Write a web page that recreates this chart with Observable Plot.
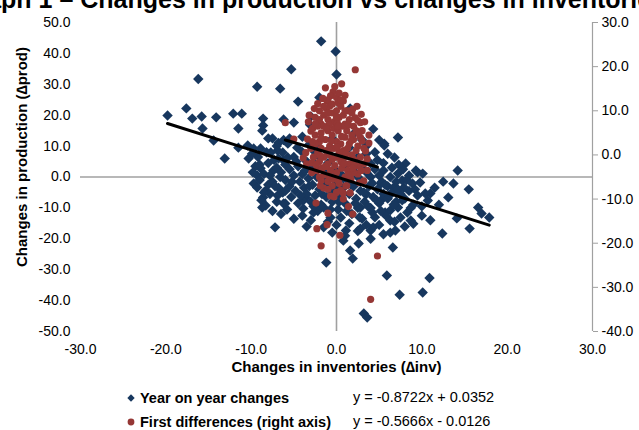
<!DOCTYPE html>
<html><head><meta charset="utf-8">
<script src="https://cdn.jsdelivr.net/npm/d3@7"></script>
<script src="https://cdn.jsdelivr.net/npm/@observablehq/plot@0.6"></script>
<style>
body{margin:0;background:#fff;}
#wrap{position:relative;width:639px;height:430px;overflow:hidden;font-family:"Liberation Sans",Arial,sans-serif;color:#000;background:#fff;}
#title{position:absolute;top:-14px;left:-42px;text-align:left;font-weight:bold;font-size:25px;line-height:26px;white-space:nowrap;}
#chart{position:absolute;left:0;top:0;}
.leg{position:absolute;font-size:14.5px;line-height:16px;white-space:nowrap;}
.eq{position:absolute;font-size:14.5px;line-height:16px;white-space:nowrap;}
</style></head><body>
<div id="wrap">
  <div id="title"></div>
  <div id="chart"></div>
  <div id="legend"></div>
</div>
<script>
const titleText = "Graph 1 – Changes in production vs changes in inventories";
const xTitle = "Changes in inventories (\u2206inv)";
const yTitle = "Changes in production (\u2206prod)";
const seriesNames = ["Year on year changes", "First differences (right axis)"];
const seriesColors = ["#17375E", "#953735"];
const slopes = [-0.8722, -0.5666];
const intercepts = [0.0352, -0.0126];
const equations = ["y = -0.8722x + 0.0352", "y = -0.5666x - 0.0126"];
const xTicks = [-30, -20, -10, 0, 10, 20, 30];
const leftTicks = [-50, -40, -30, -20, -10, 0, 10, 20, 30, 40, 50];
const rightTicks = [-40, -30, -20, -10, 0, 10, 20, 30];

// Year on year changes (x = Δinv, y = Δprod, left axis)
const yoyPoints = [
[-1.8,43.9],[-0.1,40.6],[0,33.2],[-5.3,34.9],[-16.2,31.7],[-9.3,29.2],[-6.6,28.6],[-4.5,24.4],[-2.0,25.7],[1.6,22.2],
[-19.8,19.9],[-17.6,22.2],[-16.9,18.9],[-15.8,19.6],[-14.1,19.3],[-12.1,20.5],[-11.1,20.5],[-15.7,15.7],[-11.5,15.7],[-8.6,18.9],
[-8.6,16.7],[-8.7,15.0],[-6.2,18.6],[-5.0,17.6],[-3.0,19.6],[-3.1,16.9],[-7.5,12.5],[-14.4,11.8],[-13.1,6.0],[-10.3,6.0],
[-11.5,9.5],[-10.4,10.2],[-9.7,9.2],[-8.9,9.2],[-7.7,7.9],[-6.9,8.6],[-6.2,5.3],[-5.7,6.3],[-5.7,10.8],[-6.3,7.9],
[4.3,15.5],[5.6,10.8],[7.2,12.8],[6.8,6.3],[8.1,4.4],[9.3,2.1],[7.2,1.1],[9.8,-1.8],[14.2,2.1],[13.7,-2.1],
[15.5,-4.0],[11.0,-5.3],[10.7,-7.6],[13.1,-6.6],[14.1,-13.4],[12.4,-18.3],[15.6,-16.7],[16.6,-9.9],[17.0,-11.8],[17.9,-13.1],
[7.5,-13.1],[8.7,-14.1],[9.0,-15.1],[6.6,-22.8],[6.3,-18.0],[7.9,-3.4],[8.3,-11.5],[10.1,1.1],[10.4,-5.3],[6.7,-3.4],
[7.7,-1.1],[8.9,-2.1],[9.5,1.5],[5.6,10.2],
[-8.9,2.8],[-9.3,0.5],[-9.7,-2.1],[-9.3,-3.4],[-8.3,-4.4],[-8.6,-6.6],[-8.3,-9.2],[-8.7,-9.9],[-7.2,-16.3],[-6.9,-6.0],
[-6.2,-8.6],[-7.4,2.1],[-6.6,0],[-6.0,-8.6],[-3.9,-7.6],[-3.9,-10.2],[-2.7,-11.5],[-1.5,-16.3],[-0.7,-13.1],[-1.2,-27.7],
[0.8,-20.6],[1.6,-23.8],[1.9,-26.4],[2.6,-21.5],[2.8,-16.7],[4.0,-17.3],[5.9,-31.9],[3.2,-44.2],[3.6,-45.5],[7.4,-38.1],
[10.1,-37.4],[10.9,-32.7],[6.3,-14.1],[7.2,-9.9],[5.7,-11.5],[-3.6,-6.6],[-1.5,-9.9],[0.5,-13.1],[1.1,-17.3],[2.8,-9.9],
[4.2,-11.5],[5.2,-7.6],[6.3,-10.8],[6.9,-17.3],[4.3,-16.3],[5.5,2.1],[5.2,-2.1],[4.0,4.4],[3.0,3.1],
[-4.0,13.0],[-2.5,8.0],[3.5,10.0],[2.0,14.0],[4.5,8.0],[5.0,12.0],[-4.6,9.5],
[-9.5,3.5],[-9.0,-1.0],[-8.5,1.0],[-8.0,4.5],[-8.0,-2.5],[-7.8,-5.5],[-7.5,-1.5],[-7.3,5.5],[-7.0,3.0],[-7.0,-8.0],
[-6.8,-3.5],[-6.5,1.5],[-6.3,-5.0],[-6.0,4.0],[-6.0,-1.0],[-5.8,-10.5],[-5.5,2.5],[-5.5,-3.0],[-5.3,-6.5],[-5.0,6.5],
[-5.0,0.5],[-4.8,-4.5],[-4.5,3.5],[-4.5,-8.5],[-4.3,-1.5],[-4.0,8.0],[-4.0,1.0],[-3.8,-3.5],[-3.5,5.0],[-3.5,-5.5],
[-3.3,-0.5],[-3.0,2.5],[-3.0,-8.0],[-2.8,-2.5],[-2.5,4.0],[-2.5,-6.0],[-2.3,0.0],[-2.0,-4.0],[-2.0,6.5],[-1.8,-9.0],
[-1.5,2.0],[-1.5,-1.5],[-1.2,-6.5],[-1.0,4.5],[-1.0,-3.0],[-0.8,0.5],[-0.5,-8.0],[-0.5,-5.0],[-0.3,2.5],[0.0,-2.0],
[0.2,-10.5],[0.5,-6.5],[0.5,1.0],[0.8,-3.5],[1.0,4.0],[1.0,-8.5],[1.3,-1.0],[1.5,-5.5],[1.8,-12.0],[2.0,2.0],
[2.0,-3.0],[2.3,-7.0],[2.5,0.0],[2.5,-10.0],[2.8,-4.5],[3.0,-1.5],[3.0,-13.5],[3.3,-8.0],[3.5,1.5],[3.5,-5.5],
[3.8,-3.0],[4.0,-10.0],[4.0,0.0],[4.3,-6.5],[4.5,2.5],[4.5,-13.0],[4.8,-4.0],[5.0,-8.5],[5.0,0.5],[5.3,-1.5],
[5.5,-5.5],[5.5,4.5],[5.8,-12.5],[6.0,-3.0],[6.0,-7.0],[6.3,0.0],[6.5,-5.0],[6.5,3.0],[7.0,-8.0],[7.0,-1.5],
[7.5,-5.5],[7.8,2.5],[8.0,-7.0],[8.5,-4.5],[8.5,0.5],[9.0,-9.0],[9.5,-6.0],[-8.8,-7.5],[-7.5,-11.0],[-9.2,6.5],
[-6.5,-12.0],[-4.0,-12.5],[-3.0,-14.0],[-2.2,-11.0],[-1.0,-14.5],[0.0,-15.5],[1.5,-15.0],[2.5,-17.5],[3.5,-15.5],[5.0,-15.5],
[5.5,-18.5],[-3.2,10.5],[-2.0,9.0],[-1.0,8.0],[0.5,7.0],[1.5,9.5],[2.5,6.5],[3.5,7.5],[3.0,12.0],[-0.5,12.5],
[4.8,5.5],[6.0,7.5],[7.3,4.0],[-5.5,12.5],[-6.8,11.0],[-8.0,12.5],
[-9.8,1.5],[-9.0,4.0],[-8.5,-5.0],[-7.8,0.5],[-7.2,-3.0],[-6.8,6.0],[-6.0,-4.5],[-5.2,-1.5],[-4.7,5.0],[-4.2,-6.0],
[-3.7,2.0],[-3.2,-3.0],[-2.7,-9.5],[-2.2,2.5],[-1.7,-5.5],[-1.2,-1.0],[-0.7,-10.5],[-0.2,-3.5],[0.3,-8.0],[0.8,-0.5],
[1.2,-11.0],[1.7,-2.5],[2.2,-8.5],[2.7,-13.0],[3.2,-5.0],[3.7,-9.5],[4.2,-2.0],[4.7,-7.5],[5.2,-11.0],[5.7,-2.5],
[6.2,-6.0],[6.7,-9.0],[7.2,-4.0],[7.7,-7.5],[8.2,-1.0],[8.7,-10.0],[9.2,-4.0],[10.0,-9.5],[11.5,-3.5],[12.0,-9.0],
[12.5,-1.5],[-9.9,7.5],[-8.2,8.0],[-7.0,10.0],[-6.2,12.0],[6.8,-14.5],[8.0,-16.0],[4.0,-20.0],[1.0,-19.0],[-0.5,-18.0],
[-3.5,-16.0],[-5.0,-13.5],[10.0,-12.5],[11.0,-14.0]
];

// First differences (x = Δinv, y = Δprod, right axis)
const fdPoints = [
[2.2,19.3],[0.6,16.1],[-1.3,15.2],[-0.4,14.3],[-0.7,13.4],[-2.2,11.6],[-1.1,12.2],[0.2,11.8],[0.8,12.2],[1.9,10.4],
[2.2,8.4],[2.8,7.3],[-6.0,7.3],[-5.0,3.6],[3.0,3.2],[3.8,2.7],[3.4,0.9],[3.6,-0.9],[-3.9,-0.7],[2.5,-4.3],
[3.2,-5.9],[-2.4,-10.9],[-1.0,-13.2],[1.4,-11.7],[1.9,-13.4],[-2.3,-16.7],[-1.1,-15.8],[0.4,-18.2],[1.6,-8.6],[0.8,-8.6],
[-1.8,-20.6],[4.8,-22.9],[4.0,-32.7],[-3.0,5.4],[-3.4,3.6],
[-2.5,8.5],[-2.0,10.0],[-1.8,7.0],[-1.5,9.0],[-1.2,10.5],[-1.0,8.0],[-0.8,11.0],[-0.5,9.5],[-0.3,7.5],[0.0,10.0],
[0.3,8.5],[0.5,11.0],[0.8,9.0],[1.0,7.0],[1.3,10.0],[1.5,8.0],[1.8,9.5],[2.0,6.5],[-2.8,6.0],[-2.5,4.5],
[-2.2,6.5],[-2.0,3.0],[-1.8,5.0],[-1.5,6.5],[-1.3,3.5],[-1.0,5.5],[-0.8,2.0],[-0.5,4.5],[-0.3,6.0],[0.0,3.0],
[0.2,5.5],[0.5,2.5],[0.7,6.5],[1.0,4.0],[1.2,5.5],[1.5,2.5],[1.8,4.5],[2.0,3.5],[2.3,5.5],[2.5,2.0],
[2.8,4.0],[3.0,5.5],[-3.0,1.5],[-2.7,-0.5],[-2.5,2.5],[-2.2,0.5],[-2.0,-1.5],[-1.8,1.5],[-1.5,-0.5],[-1.2,1.0],
[-1.0,-2.0],[-0.8,0.0],[-0.5,-1.0],[-0.3,1.5],[0.0,-0.5],[0.3,0.5],[0.5,-1.5],[0.8,1.0],[1.0,-0.5],[1.3,1.5],
[1.5,-2.0],[1.8,0.0],[2.0,-1.0],[2.3,1.0],[2.5,-2.5],[2.8,-0.5],[3.2,-2.0],[-2.3,-3.5],[-2.0,-5.0],[-1.7,-3.0],
[-1.4,-4.5],[-1.0,-6.0],[-0.7,-3.5],[-0.4,-5.5],[0.0,-4.0],[0.3,-6.5],[0.6,-3.0],[1.0,-5.0],[1.3,-3.5],[1.7,-5.5],
[2.0,-4.0],[-1.5,-7.5],[-0.5,-7.0],[0.5,-8.0],[1.2,-7.0],[-1.0,12.5],[0.0,13.0],[-0.2,15.5],[0.3,14.0],[1.0,13.5],
[-1.6,12.8],[-2.6,10.5],[2.4,11.0],[-3.3,7.5],[3.3,7.5],[-0.9,6.8],[0.1,7.2],[-1.9,-7.0],[-0.7,-9.3],[1.1,-7.0],
[2.7,-6.3],[-2.9,-4.0],[3.6,-3.5],[-3.5,-2.0],
[-2.0,8.0],[-1.0,9.5],[0.0,8.5],[1.0,10.0],[-0.5,11.5],[0.5,12.5],[-1.5,11.0],[-2.5,7.0],[-1.2,6.0],[0.2,6.5],
[1.4,6.8],[2.5,7.8],[-2.8,3.0],[-1.8,3.8],[-0.6,3.2],[0.6,4.2],[1.7,3.2],[2.6,4.8],[3.2,1.5],[-2.9,-1.8],
[-1.9,-0.2],[-0.9,1.2],[0.1,1.8],[1.1,0.2],[2.1,-2.2],[2.9,-3.5],[-2.4,-2.2],[-1.3,-2.6],[-0.2,-2.4],[0.9,-2.0],
[1.9,-3.0],[-1.8,-5.8],[-0.8,-4.8],[0.2,-5.8],[1.4,-4.6],[-1.0,-7.8],[0.0,-8.5],[-0.3,-9.5],[0.8,-10.0],[-3.6,0.5],
[3.8,4.5],[-3.2,9.0],[2.9,9.2]
];

// right-axis values mapped onto the left axis (30 ↔ 50, -40 ↔ -50)
const toLeft = v => v * 10 / 7 + 50 / 7;
const fromLeft = d => (d - 50 / 7) * 0.7;

const yoy = yoyPoints.map(([x, y]) => ({x, y}));
const fd = fdPoints.map(([x, y]) => ({x, y: toLeft(y)}));

function trend(points, k, rightAxis) {
  const [x0, x1] = d3.extent(points, p => p[0]);
  return [x0, x1].map(x => {
    const y = slopes[k] * x + intercepts[k];
    return {x, y: rightAxis ? toLeft(y) : y};
  });
}

const fmt = v => (Math.round(v * 10) / 10 + 0).toFixed(1);

const chart = Plot.plot({
  width: 639,
  height: 385,
  marginLeft: 80,
  marginRight: 47,
  marginTop: 22,
  marginBottom: 54,
  style: {fontFamily: "'Liberation Sans', Arial, sans-serif", fontSize: "14px", color: "#000", background: "transparent"},
  x: {domain: [-30, 30]},
  y: {domain: [-50, 50]},
  marks: [
    Plot.ruleY([0], {stroke: "#a0a0a0", strokeWidth: 1.6}),
    Plot.ruleX([0], {stroke: "#a0a0a0", strokeWidth: 1.6}),
    Plot.ruleX([30], {stroke: "#a0a0a0", strokeWidth: 1.2}),
    Plot.axisX(xTicks, {anchor: "bottom", tickSize: 0, tickPadding: 13, tickFormat: fmt, label: null}),
    Plot.axisY(leftTicks, {anchor: "left", tickSize: 0, tickPadding: 10, tickFormat: fmt, label: null}),
    Plot.axisY(rightTicks.map(toLeft), {anchor: "right", tickSize: 5, tickPadding: 4, stroke: "#a0a0a0", tickFormat: d => fmt(fromLeft(d)), label: null}),
    Plot.dot(yoy, {x: "x", y: "y", symbol: "diamond2", r: 4.7, fill: seriesColors[0], stroke: null}),
    Plot.dot(fd, {x: "x", y: "y", symbol: "circle", r: 3.6, fill: seriesColors[1], stroke: null}),
    Plot.line(trend(yoyPoints, 0, false), {x: "x", y: "y", stroke: "#000", strokeWidth: 3}),
    Plot.line(trend(fdPoints, 1, true), {x: "x", y: "y", stroke: "#000", strokeWidth: 3}),
    Plot.text([xTitle], {frameAnchor: "bottom", textAnchor: "middle", dy: 40, fontWeight: "bold", fontSize: 15, fill: "#000"}),
    Plot.text([yTitle], {frameAnchor: "left", textAnchor: "middle", dx: -58, dy: -20, rotate: -90, fontWeight: "bold", fontSize: 15, fill: "#000"})
  ]
});
document.getElementById("chart").appendChild(chart);
document.getElementById("title").textContent = titleText;

// legend
const legend = document.getElementById("legend");
const rows = [398, 422];
seriesNames.forEach((name, i) => {
  const sym = document.createElementNS("http://www.w3.org/2000/svg", "svg");
  sym.setAttribute("width", 12); sym.setAttribute("height", 12);
  sym.style.position = "absolute"; sym.style.left = "125px"; sym.style.top = (rows[i] - 6) + "px";
  sym.innerHTML = i === 0
    ? `<path d="M6,2.3L9.7,6L6,9.7L2.3,6Z" fill="${seriesColors[0]}"/>`
    : `<circle cx="6" cy="6" r="3.4" fill="${seriesColors[1]}"/>`;
  legend.appendChild(sym);
  const t = document.createElement("div");
  t.className = "leg"; t.style.left = "140px"; t.style.top = (rows[i] - 8) + "px";
  t.style.fontWeight = "bold"; t.textContent = name;
  legend.appendChild(t);
  const e = document.createElement("div");
  e.className = "eq"; e.style.left = "353px"; e.style.top = (rows[i] - 9) + "px";
  e.textContent = equations[i];
  legend.appendChild(e);
});
</script>
</body></html>
